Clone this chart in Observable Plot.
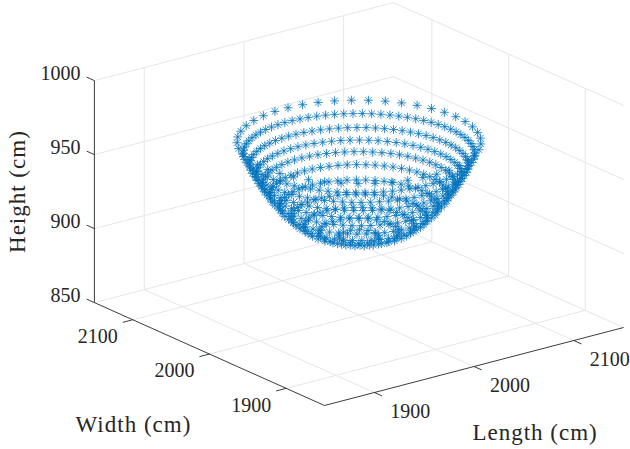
<!DOCTYPE html>
<html><head><meta charset="utf-8">
<script src="https://cdn.jsdelivr.net/npm/d3@7"></script>
<script src="https://cdn.jsdelivr.net/npm/@observablehq/plot@0.6"></script>
<style>
html,body{margin:0;padding:0;background:#fff}
svg{display:block}
</style></head><body><div id="chart"></div>
<script>
// Tick labels and axis limits
const lengthTicks = [1900, 2000, 2100];
const widthTicks = [1900, 2000, 2100];
const heightTicks = [850, 900, 950, 1000];
const horizontalLimits = [1850, 2150];
const heightLimits = [850, 1000];
// Rings of the bowl (top to bottom)
const bowlCentre = [2000, 2000];
const ringHeight = [967, 959.4, 951.4, 944.4, 938, 931, 923, 916, 910, 906, 903];
const ringRadius = [97, 92, 87, 82, 77, 71, 63, 54, 44, 32, 16];
const ringCount = [45, 78, 74, 69, 65, 60, 53, 46, 37, 27, 14];
const ringPhase = [0, 0, 0, 0, 0, 0, 0, 0, 0, 0, 0];

// View of the 3-D box (orthographic): data to flat view coordinates
const view = (l, w, z) => ({
  x: 324 + (l - 1850) * 0.997 - (w - 1850) * 0.767,
  y: 405 - (l - 1850) * 0.26 - (w - 1850) * 0.343 - (z - 850) * 1.48
});
const [lo, hi] = horizontalLimits;
const [zlo, zhi] = heightLimits;
const seg = (a, b) => ({x1: view(...a).x, y1: view(...a).y, x2: view(...b).x, y2: view(...b).y});

const grid = [
  ...lengthTicks.flatMap(l => [seg([l, lo, zlo], [l, hi, zlo]), seg([l, hi, zlo], [l, hi, zhi])]),
  ...widthTicks.flatMap(w => [seg([lo, w, zlo], [hi, w, zlo]), seg([hi, w, zlo], [hi, w, zhi])]),
  ...heightTicks.flatMap(z => [seg([lo, hi, z], [hi, hi, z]), seg([hi, hi, z], [hi, lo, z])])
];
const axes = [seg([lo, hi, zlo], [lo, lo, zlo]), seg([lo, lo, zlo], [hi, lo, zlo]), seg([lo, hi, zlo], [lo, hi, zhi])];
const tickLen = 10;
const ticks = [
  ...widthTicks.map(w => seg([lo, w, zlo], [lo - tickLen, w, zlo])),
  ...lengthTicks.map(l => seg([l, lo, zlo], [l, lo - tickLen, zlo])),
  ...heightTicks.map(z => seg([lo, hi, z], [lo, hi + tickLen, z]))
];
const points = ringHeight.flatMap((z, k) => d3.range(ringCount[k]).map(i => {
  const t = (i + ringPhase[k]) / ringCount[k] * 2 * Math.PI;
  return view(bowlCentre[0] + ringRadius[k] * Math.cos(t), bowlCentre[1] + ringRadius[k] * Math.sin(t), z);
}));

// Eight-armed star marker
const star = {draw(ctx, size) {
  const r = Math.sqrt(size / Math.PI), d = r * Math.SQRT1_2;
  ctx.moveTo(-r, 0); ctx.lineTo(r, 0);
  ctx.moveTo(0, -r); ctx.lineTo(0, r);
  ctx.moveTo(-d, -d); ctx.lineTo(d, d);
  ctx.moveTo(-d, d); ctx.lineTo(d, -d);
}};

const ink = "#262626";
const serif = "Liberation Serif";
const label = (rows, opts) => Plot.text(rows, {x: "x", y: "y", text: "t", fill: ink, fontFamily: serif, fontSize: 20, ...opts});
const title = (row, opts) => Plot.text([row], {x: "x", y: "y", text: "t", fill: ink, fontFamily: serif, fontSize: 23, ...opts});
const plot = Plot.plot({
  width: 630, height: 449, margin: 0,
  style: {background: "#fff"},
  x: {domain: [0, 630], range: [0, 630], axis: null},
  y: {domain: [0, 449], range: [0, 449], axis: null},
  marks: [
    Plot.link(grid, {x1: "x1", y1: "y1", x2: "x2", y2: "y2", stroke: "#e6e6e6", strokeWidth: 1}),
    Plot.link(axes, {x1: "x1", y1: "y1", x2: "x2", y2: "y2", stroke: ink, strokeWidth: 0.9}),
    Plot.link(ticks, {x1: "x1", y1: "y1", x2: "x2", y2: "y2", stroke: ink, strokeWidth: 0.9}),
    Plot.dot(points, {x: "x", y: "y", symbol: star, r: 4.5, stroke: "#0072BD", strokeWidth: 0.8, fill: "none"}),
    label(widthTicks.map(w => ({...view(lo, w, zlo), t: String(w)})), {dx: -35, dy: 17}),
    label(lengthTicks.map(l => ({...view(l, lo, zlo), t: String(l)})), {dx: 36, dy: 19}),
    label(heightTicks.map(z => ({...view(lo, hi, z), t: String(z)})), {dx: -14, dy: -7, textAnchor: "end"}),
    title({...view(lo, 2000, zlo), t: "Width (cm)"}, {dx: -76, dy: 71}),
    title({...view(2000, lo, zlo), t: "Length (cm)"}, {dx: 61, dy: 66}),
    title({...view(lo, hi, 925), t: "Height (cm)"}, {dx: -77, rotate: -90})
  ]
});
plot.querySelectorAll("text").forEach(t => { if (t.textContent.includes("(cm)")) t.style.letterSpacing = "1px"; });
document.getElementById("chart").append(plot);
</script></body></html>
